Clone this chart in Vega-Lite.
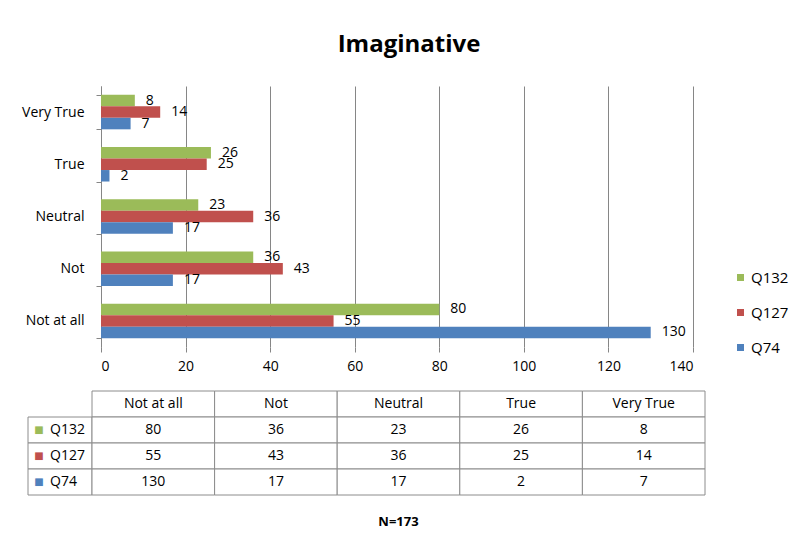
{
  "$schema": "https://vega.github.io/schema/vega-lite/v6.json",
  "padding": {"left": 21, "top": 33, "right": 5, "bottom": 5},
  "background": "white",
  "config": {
    "view": {"stroke": null},
    "font": "Open Sans",
    "text": {"font": "Open Sans", "color": "#000"}
  },
  "datasets": {
    "d": [
      {"cat": "Not at all", "series": "Q132", "value": 80},
      {"cat": "Not", "series": "Q132", "value": 36},
      {"cat": "Neutral", "series": "Q132", "value": 23},
      {"cat": "True", "series": "Q132", "value": 26},
      {"cat": "Very True", "series": "Q132", "value": 8},
      {"cat": "Not at all", "series": "Q127", "value": 55},
      {"cat": "Not", "series": "Q127", "value": 43},
      {"cat": "Neutral", "series": "Q127", "value": 36},
      {"cat": "True", "series": "Q127", "value": 25},
      {"cat": "Very True", "series": "Q127", "value": 14},
      {"cat": "Not at all", "series": "Q74", "value": 130},
      {"cat": "Not", "series": "Q74", "value": 17},
      {"cat": "Neutral", "series": "Q74", "value": 17},
      {"cat": "True", "series": "Q74", "value": 2},
      {"cat": "Very True", "series": "Q74", "value": 7}
    ],
    "cats": [
      {"cat": "Not at all"}, {"cat": "Not"}, {"cat": "Neutral"}, {"cat": "True"}, {"cat": "Very True"}
    ],
    "series": [
      {"series": "Q132"}, {"series": "Q127"}, {"series": "Q74"}
    ]
  },
  "spacing": 17,
  "vconcat": [
    {
      "bounds": "flush",
      "spacing": 0,
      "hconcat": [
        {
          "width": 73,
          "height": 261,
          "data": {"values": [{"a": 1}]},
          "mark": {"type": "text"},
          "encoding": {"text": {"value": ""}}
        },
        {
          "width": 592,
          "height": 261,
          "title": {"text": "Imaginative", "fontSize": 24, "fontWeight": "bold", "font": "Open Sans", "offset": 22, "dx": 12, "anchor": "middle", "color": "#000"},
          "data": {"name": "d"},
          "encoding": {
            "y": {
              "field": "cat", "type": "nominal",
              "sort": ["Very True", "True", "Neutral", "Not", "Not at all"],
              "scale": {"paddingInner": 0.34, "paddingOuter": 0.17},
              "axis": {"title": null, "labelFontSize": 14, "labelColor": "#000", "labelFont": "Open Sans", "tickBand": "extent", "tickSize": 5, "tickColor": "#868686", "domainColor": "#868686", "labelPadding": 12}
            },
            "yOffset": {"field": "series", "type": "nominal", "sort": ["Q132", "Q127", "Q74"]},
            "x": {
              "field": "value", "type": "quantitative",
              "scale": {"domain": [0, 140], "nice": false},
              "axis": {"title": null, "values": [0, 20, 40, 60, 80, 100, 120, 140], "grid": true, "gridColor": "#868686", "gridOpacity": 1, "domain": false, "ticks": true, "tickSize": 5, "tickColor": "#868686", "labelFontSize": 14, "labelColor": "#000", "labelFont": "Open Sans", "labelPadding": 7}
            },
            "color": {
              "field": "series", "type": "nominal",
              "scale": {"domain": ["Q132", "Q127", "Q74"], "range": ["#9BBB59", "#C0504D", "#4F81BD"]},
              "legend": {"title": null, "orient": "none", "legendX": 705, "legendY": 184, "symbolType": "square", "symbolSize": 49, "symbolStrokeWidth": 0, "labelFontSize": 15, "labelFont": "Open Sans", "labelColor": "#000", "labelOffset": 3, "rowPadding": 19}
            }
          },
          "layer": [
            {"mark": {"type": "bar"}},
            {
              "mark": {"type": "text", "align": "left", "dx": 11, "fontSize": 14, "font": "Open Sans"},
              "encoding": {"text": {"field": "value", "type": "quantitative"}, "color": {"value": "#000"}}
            }
          ]
        }
      ]
    },
    {
      "bounds": "flush",
      "spacing": 0,
      "hconcat": [
        {
          "width": 64,
          "height": 104,
          "data": {"name": "series"},
          "encoding": {
            "y": {"field": "series", "type": "nominal", "scale": {"domain": ["hdr", "Q132", "Q127", "Q74"], "paddingInner": 0, "paddingOuter": 0}, "axis": null}
          },
          "layer": [
            {"mark": {"type": "rect", "fill": "white", "stroke": "#8c8c8c", "strokeWidth": 1}},
            {
              "mark": {"type": "text", "text": "■", "font": "DejaVu Sans", "fontSize": 10, "dx": -21, "align": "center"},
              "encoding": {"color": {"field": "series", "type": "nominal", "scale": {"domain": ["Q132", "Q127", "Q74"], "range": ["#9BBB59", "#C0504D", "#4F81BD"]}, "legend": null}}
            },
            {
              "mark": {"type": "text", "align": "left", "dx": -10, "fontSize": 14, "font": "Open Sans", "color": "#000"},
              "encoding": {"text": {"field": "series"}}
            }
          ]
        },
        {
          "width": 613,
          "height": 104,
          "title": {"text": "N=173", "orient": "bottom", "offset": 20, "fontSize": 13, "fontWeight": "bold", "font": "Open Sans", "color": "#000", "anchor": "middle"},
          "layer": [
            {
              "data": {"name": "cats"},
              "mark": {"type": "rect", "fill": "white", "stroke": "#8c8c8c", "strokeWidth": 1},
              "encoding": {
                "x": {"field": "cat", "type": "nominal", "scale": {"domain": ["Not at all", "Not", "Neutral", "True", "Very True"], "paddingInner": 0, "paddingOuter": 0}, "axis": null},
                "y": {"datum": "hdr", "type": "nominal", "scale": {"domain": ["hdr", "Q132", "Q127", "Q74"], "paddingInner": 0, "paddingOuter": 0}, "axis": null}
              }
            },
            {
              "data": {"name": "cats"},
              "mark": {"type": "text", "fontSize": 14, "font": "Open Sans", "color": "#000"},
              "encoding": {
                "x": {"field": "cat", "type": "nominal", "scale": {"domain": ["Not at all", "Not", "Neutral", "True", "Very True"]}, "axis": null},
                "y": {"datum": "hdr", "type": "nominal", "scale": {"domain": ["hdr", "Q132", "Q127", "Q74"]}, "axis": null},
                "text": {"field": "cat"}
              }
            },
            {
              "data": {"name": "d"},
              "mark": {"type": "rect", "fill": "white", "stroke": "#8c8c8c", "strokeWidth": 1},
              "encoding": {
                "x": {"field": "cat", "type": "nominal", "scale": {"domain": ["Not at all", "Not", "Neutral", "True", "Very True"]}, "axis": null},
                "y": {"field": "series", "type": "nominal", "scale": {"domain": ["hdr", "Q132", "Q127", "Q74"]}, "axis": null}
              }
            },
            {
              "data": {"name": "d"},
              "mark": {"type": "text", "fontSize": 14, "font": "Open Sans", "color": "#000"},
              "encoding": {
                "x": {"field": "cat", "type": "nominal", "scale": {"domain": ["Not at all", "Not", "Neutral", "True", "Very True"]}, "axis": null},
                "y": {"field": "series", "type": "nominal", "scale": {"domain": ["hdr", "Q132", "Q127", "Q74"]}, "axis": null},
                "text": {"field": "value", "type": "quantitative"}
              }
            }
          ]
        }
      ]
    }
  ]
}
